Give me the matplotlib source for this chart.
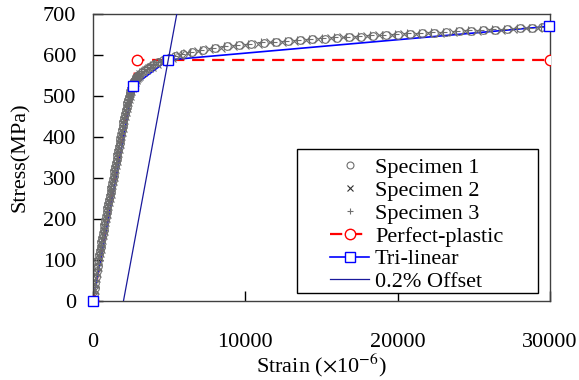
import matplotlib
matplotlib.use("Agg")
import matplotlib.pyplot as plt
from matplotlib.lines import Line2D
from matplotlib.patches import Rectangle

plt.rcParams['font.family'] = ['Liberation Serif', 'DejaVu Serif']
plt.rcParams['mathtext.fontset'] = 'stix'

# strain (x10^-6) for the elastic part, shared by the three specimens
elastic_strain = [0, 50, 100, 150, 200, 250, 300, 350, 400, 450, 500, 550, 600, 650, 700,
                  750, 800, 850, 900, 950, 1000, 1050, 1100, 1150, 1200, 1250, 1300, 1350,
                  1400, 1450, 1500, 1550, 1600, 1650, 1700, 1750, 1800, 1850, 1900, 1950,
                  2000, 2050, 2100, 2150, 2200, 2250, 2300, 2350, 2400, 2450, 2500, 2550,
                  2600, 2650, 2700, 2750, 2800, 2850, 2900, 2950, 3000]

spec1_elastic = [0, 16, 31, 45, 59, 73, 86, 100, 111, 122, 132, 143, 153, 164, 174, 185, 196,
                 206, 216, 226, 236, 246, 256, 266, 276, 286, 296, 306, 316, 326, 336, 346,
                 356, 366, 376, 386, 396, 406, 416, 426, 436, 446, 455, 465, 474, 482, 490,
                 497, 504, 511, 517, 523, 528, 532, 536, 539, 542, 545, 548, 550, 552]
spec2_elastic = [0, 12, 27, 41, 55, 69, 82, 96, 107, 118, 128, 139, 149, 160, 170, 181, 192,
                 202, 212, 222, 232, 242, 252, 262, 272, 282, 292, 302, 312, 322, 332, 342,
                 352, 362, 372, 382, 392, 402, 412, 422, 432, 442, 451, 461, 470, 478, 486,
                 493, 500, 507, 513, 519, 524, 528, 532, 535, 538, 541, 544, 546, 548]
spec3_elastic = [0, 20, 35, 49, 63, 77, 90, 104, 115, 126, 136, 147, 157, 168, 178, 189, 200,
                 210, 220, 230, 240, 250, 260, 270, 280, 290, 300, 310, 320, 330, 340, 350,
                 360, 370, 380, 390, 400, 410, 420, 430, 440, 450, 459, 469, 478, 486, 494,
                 501, 508, 515, 521, 527, 532, 536, 540, 543, 546, 549, 552, 554, 556]

# knee + hardening part
spec1_strain = [3200, 3400, 3600, 3800, 4000, 4300, 4600, 5000, 5400, 5900, 6500, 7200, 8000,
                8800, 9600, 10400, 11200, 12000, 12800, 13600, 14400, 15200, 16000, 16800,
                17600, 18400, 19200, 20000, 20800, 21600, 22400, 23200, 24000, 24800, 25600,
                26400, 27200, 28000, 28800, 29500]
spec1_stress = [558, 563, 568, 573, 577, 582, 587, 592, 597, 602, 607, 612, 617, 621, 624, 627,
                630, 632, 634, 636, 638, 640, 642, 644, 645, 647, 649, 650, 652, 653, 655, 656,
                658, 659, 660, 662, 663, 665, 666, 668]
spec2_strain = [3100, 3300, 3500, 3700, 3900, 4200, 4500, 4800, 5200, 5700, 6200, 6900, 7600,
                8400, 9200, 10000, 10800, 11600, 12400, 13200, 14000, 14800, 15600, 16400,
                17200, 18000, 18800, 19600, 20400, 21200, 22000, 22800, 23600, 24400, 25200,
                26000, 26800, 27600, 28400, 29200]
spec2_stress = [553, 558, 563, 568, 572, 578, 583, 587, 593, 599, 604, 609, 614, 618, 622, 625,
                628, 631, 633, 635, 637, 639, 641, 643, 644, 646, 648, 649, 651, 652, 654, 655,
                657, 658, 659, 661, 662, 664, 665, 667]
spec3_strain = [3150, 3350, 3550, 3750, 3950, 4250, 4550, 4900, 5300, 5800, 6400, 7000, 7800,
                8600, 9400, 10200, 11000, 11800, 12600, 13400, 14200, 15000, 15800, 16600,
                17400, 18200, 19000, 19800, 20600, 21400, 22200, 23000, 23800, 24600, 25400,
                26200, 27000, 27800, 28600, 29400]
spec3_stress = [560, 565, 570, 575, 579, 584, 589, 593, 598, 603, 608, 612, 617, 621, 625, 628,
                631, 633, 635, 637, 639, 641, 643, 645, 646, 648, 650, 651, 653, 654, 656, 657,
                659, 660, 661, 663, 664, 666, 667, 669]

# material models
pp_strain = [0, 2900, 30000]
pp_stress = [0, 588, 588]
tri_strain = [0, 2626, 4920, 29950]
tri_stress = [0, 524, 588, 670]
offset_strain = [2000, 5500]
offset_stress = [0, 700]

fig = plt.figure(figsize=(5.79, 3.80), dpi=100)
ax = fig.add_axes([0.1606, 0.2079, 0.7894, 0.7551])

gray = '#6e6e6e'
red = '#ff0000'
blue = '#0000ff'
navy = '#1a1a9c'

# model lines underneath the test data
ax.plot(pp_strain, pp_stress, color=red, lw=1.6, dashes=(5.5, 3.5), zorder=1)
ax.plot(tri_strain, tri_stress, color=blue, lw=1.2, zorder=1)
ax.plot(offset_strain, offset_stress, color=navy, lw=0.9, zorder=4)

ax.plot(elastic_strain + spec1_strain, spec1_elastic + spec1_stress, ls='none', marker='o',
        ms=5.5, mfc='none', mec=gray, mew=0.8, zorder=2)
ax.plot(elastic_strain + spec2_strain, spec2_elastic + spec2_stress, ls='none', marker='x',
        ms=5.5, mec=gray, mew=0.8, zorder=2)
ax.plot(elastic_strain + spec3_strain, spec3_elastic + spec3_stress, ls='none', marker='+',
        ms=5.5, mec=gray, mew=0.8, zorder=2)

# model markers on top
ax.plot(pp_strain, pp_stress, ls='none', marker='o', ms=7.5, mfc='white', mec=red, mew=1, zorder=3)
ax.plot(tri_strain, tri_stress, ls='none', marker='s', ms=7.5, mfc='white', mec=blue, mew=1,
        zorder=3, clip_on=False)

ax.set_xlim(0, 30000)
ax.set_ylim(0, 700)
ax.set_xticks([0, 10000, 20000, 30000])
ax.set_yticks(range(0, 701, 100))
ax.tick_params(axis='x', direction='in', length=7, width=1, pad=23, labelsize=16)
ax.tick_params(axis='y', direction='in', length=7, width=1, pad=12, labelsize=16)
for sp in ax.spines.values():
    sp.set_color('#404040')
    sp.set_linewidth(1)

ax.set_xlabel(r'Strain ($\times$10$^{-6}$)', fontsize=16, labelpad=0)
ax.set_ylabel('Stress(MPa)', fontsize=16, labelpad=9)

# legend with a hand drawn box
ax.add_patch(Rectangle((0.446, 0.028), 0.528, 0.502, transform=ax.transAxes, fill=True,
                       facecolor='white', edgecolor='black', lw=1, zorder=5))
handles = [
    Line2D([], [], ls='none', marker='o', ms=5, mfc='none', mec=gray, mew=0.8),
    Line2D([], [], ls='none', marker='x', ms=5, mec='#303030', mew=0.8),
    Line2D([], [], ls='none', marker='+', ms=5, mec=gray, mew=0.8),
    Line2D([], [], color=red, lw=1.6, dashes=(5.5, 3.5), marker='o', ms=7.5, mfc='white', mec=red),
    Line2D([], [], color=blue, lw=1.2, marker='s', ms=7.5, mfc='white', mec=blue),
    Line2D([], [], color=navy, lw=0.9),
]
labels = ['Specimen 1', 'Specimen 2', 'Specimen 3', 'Perfect-plastic', 'Tri-linear',
          '0.2% Offset']
leg = ax.legend(handles, labels, loc='upper left', bbox_to_anchor=(0.509, 0.515),
                frameon=False, fontsize=16, handlelength=1.75, handletextpad=0.27,
                labelspacing=0.1, borderpad=0.2, borderaxespad=0)
leg.set_zorder(6)

fig.savefig('out.png', dpi=100)
